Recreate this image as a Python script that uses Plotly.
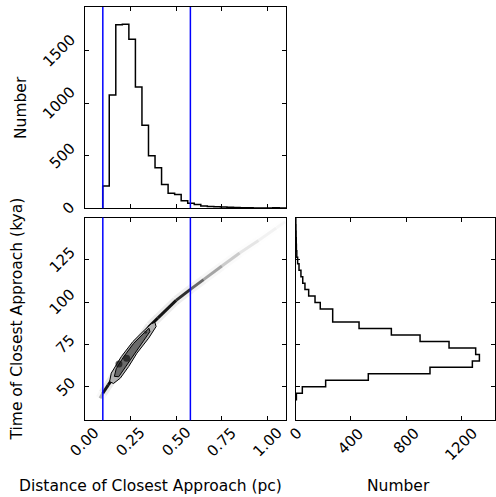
import numpy as np
import plotly.graph_objects as go

# ---------------- data ----------------
# distance histogram (top-left)
dist_start = 0.0994
dist_width = 0.0357
dist_counts = [213, 1077, 1745, 1752, 1608, 1153, 790, 500, 385, 226, 143, 131, 73, 48,
               35, 23, 16, 14, 12, 10, 8, 6, 5, 4, 3, 3, 5, 4]

# time histogram (bottom-right)
time_start = 42.16
time_width = 3.836
time_counts = [5, 48, 217, 526, 973, 1280, 1331, 1304, 1111, 901, 693, 459, 268, 268,
               178, 140, 94, 67, 51, 38, 24, 14, 8, 5, 4, 3, 2, 1]

# blue marker lines (pc)
blue_lines = [0.100, 0.578]

# ridge of the 2-D distribution
ridge_x = [0.085, 0.10, 0.13, 0.20, 0.28, 0.357, 0.40, 0.50, 0.578, 0.65, 0.75, 0.847, 0.95, 1.047, 1.095]
ridge_t = [43.0, 46.0, 51.0, 62.0, 74.0, 86.0, 90.5, 101.0, 107.5, 113.3, 121.3, 129.0, 136.5, 143.8, 147.5]
ridge_density = [0.3, 0.95, 1.0, 1.0, 1.0, 1.0, 0.95, 0.85, 0.6, 0.35, 0.2, 0.1, 0.05, 0.03]

# contour levels
outer_x = [0.137, 0.146, 0.201, 0.264, 0.328, 0.364, 0.384, 0.391, 0.350, 0.286, 0.241, 0.195, 0.158, 0.137]
outer_t = [52.9, 57.9, 67.7, 76.6, 83.5, 87.1, 88.0, 85.5, 78.6, 69.7, 61.8, 54.9, 51.8, 52.9]
middle_x = [0.163, 0.173, 0.213, 0.268, 0.328, 0.352, 0.357, 0.322, 0.267, 0.227, 0.187, 0.163]
middle_t = [56.0, 60.5, 67.5, 75.5, 82.0, 84.5, 82.5, 77.0, 69.0, 62.0, 55.8, 56.0]
peak_x = [0.188, 0.230, 0.333]
peak_t = [63.4, 66.8, 82.2]

dist_ticks = [0, 0.25, 0.5, 0.75, 1.0]
dist_ticklabels = ["0.00", "0.25", "0.50", "0.75", "1.00"]
count_ticks_top = [0, 500, 1000, 1500]
time_ticks = [50, 75, 100, 125]
count_ticks_right = [0, 400, 800, 1200]

# ---------------- layout geometry ----------------
W, H = 496, 497
def px_x(a, b):
    return [a / W, b / W]
def px_y(top, bottom):
    return [1 - bottom / H, 1 - top / H]

FONT = "DejaVu Sans"
TICKFS = 15
LABFS = 15.5

fig = go.Figure()

# top histogram (step)
edges = dist_start + dist_width * np.arange(len(dist_counts) + 1)
hx = np.concatenate([[edges[0]], edges[:-1], [edges[-1], edges[-1]]])
hy = np.concatenate([[0], dist_counts, [dist_counts[-1], 0]])
fig.add_trace(go.Scatter(x=hx, y=hy, mode="lines", line=dict(color="black", width=1.5, shape="hv"),
                         xaxis="x", yaxis="y", hoverinfo="skip"))

# right histogram (horizontal step)
tedges = time_start + time_width * np.arange(len(time_counts) + 1)
vy = np.concatenate([[tedges[0]], tedges[:-1], [tedges[-1], tedges[-1]]])
vx = np.concatenate([[0], time_counts, [time_counts[-1], 0]])
fig.add_trace(go.Scatter(x=vx, y=vy, mode="lines", line=dict(color="black", width=1.5, shape="vh"),
                         xaxis="x3", yaxis="y3", hoverinfo="skip"))

# 2-D ridge: halo then core
for i in range(len(ridge_density)):
    d = ridge_density[i]
    fig.add_trace(go.Scatter(x=ridge_x[i:i + 2], y=ridge_t[i:i + 2], mode="lines",
                             line=dict(color=f"rgba(0,0,0,{0.08 * d:.3f})", width=9),
                             xaxis="x2", yaxis="y2", hoverinfo="skip"))
for i in range(len(ridge_density)):
    d = ridge_density[i]
    fig.add_trace(go.Scatter(x=ridge_x[i:i + 2], y=ridge_t[i:i + 2], mode="lines",
                             line=dict(color=f"rgba(0,0,0,{0.95 * d:.3f})", width=3),
                             xaxis="x2", yaxis="y2", hoverinfo="skip"))

# contours
fig.add_trace(go.Scatter(x=outer_x, y=outer_t, mode="lines", fill="toself", fillcolor="#b2b2b2",
                         line=dict(color="black", width=1), xaxis="x2", yaxis="y2", hoverinfo="skip"))
fig.add_trace(go.Scatter(x=middle_x, y=middle_t, mode="lines", fill="toself", fillcolor="#6a6a6a",
                         line=dict(color="black", width=1), xaxis="x2", yaxis="y2", hoverinfo="skip"))
fig.add_trace(go.Scatter(x=peak_x, y=peak_t, mode="markers",
                         marker=dict(color="#111111", size=[7, 7, 3], line=dict(width=0)),
                         xaxis="x2", yaxis="y2", hoverinfo="skip"))

# blue lines
for v in blue_lines:
    for xa, ya in (("x", "y"), ("x2", "y2")):
        fig.add_shape(type="line", x0=v, x1=v, y0=0, y1=1, xref=xa, yref=f"{ya} domain",
                      line=dict(color="blue", width=1.5))

axis_common = dict(showgrid=False, zeroline=False, showline=True, linecolor="black", linewidth=1.3,
                   mirror="ticks", ticks="inside", ticklen=4, tickwidth=1, tickcolor="black",
                   showticklabels=False)

fig.update_layout(
    width=W, height=H, margin=dict(l=0, r=0, t=0, b=0),
    paper_bgcolor="white", plot_bgcolor="white", showlegend=False,
    xaxis=dict(domain=px_x(84.5, 286), range=[0, 1.1], tickvals=dist_ticks, anchor="y", **axis_common),
    yaxis=dict(domain=px_y(7, 208.3), range=[0, 1915], tickvals=count_ticks_top, anchor="x", **axis_common),
    xaxis2=dict(domain=px_x(84.5, 286), range=[0, 1.1], tickvals=dist_ticks, anchor="y2", **axis_common),
    yaxis2=dict(domain=px_y(217.6, 420.3), range=[30, 150], tickvals=time_ticks, anchor="x2", **axis_common),
    xaxis3=dict(domain=px_x(295.7, 495), range=[0, 1444], tickvals=count_ticks_right, anchor="y3", **axis_common),
    yaxis3=dict(domain=px_y(217.6, 420.3), range=[30, 150], tickvals=time_ticks, anchor="x3", **axis_common),
)

ann = []
tf = dict(family=FONT, size=TICKFS, color="black")
for v in count_ticks_top:
    ann.append(dict(x=0, xref="x domain", y=v, yref="y", text=str(v), textangle=-45, showarrow=False,
                    xanchor="right", yanchor="middle", xshift=-3, font=tf))
for v in time_ticks:
    ann.append(dict(x=0, xref="x2 domain", y=v, yref="y2", text=str(v), textangle=-45, showarrow=False,
                    xanchor="right", yanchor="middle", xshift=-3, font=tf))
for v, lab in zip(dist_ticks, dist_ticklabels):
    ann.append(dict(x=v, xref="x2", y=0, yref="y2 domain", text=lab, textangle=-45, showarrow=False,
                    xanchor="center", yanchor="top", yshift=-1, font=tf))
for v in count_ticks_right:
    ann.append(dict(x=v, xref="x3", y=0, yref="y3 domain", text=str(v), textangle=-45, showarrow=False,
                    xanchor="center", yanchor="top", yshift=-1, font=tf))

lf = dict(family=FONT, size=LABFS, color="black")
ann.append(dict(x=20.5 / W, y=1 - 107.5 / H, xref="paper", yref="paper", text="Number", textangle=-90,
                showarrow=False, xanchor="center", yanchor="middle", font=lf))
ann.append(dict(x=16.5 / W, y=1 - 319 / H, xref="paper", yref="paper", text="Time of Closest Approach (kya)",
                textangle=-90, showarrow=False, xanchor="center", yanchor="middle", font=lf))
ann.append(dict(x=150.5 / W, y=1 - 486 / H, xref="paper", yref="paper", text="Distance of Closest Approach (pc)",
                showarrow=False, xanchor="center", yanchor="middle", font=lf))
ann.append(dict(x=398 / W, y=1 - 486 / H, xref="paper", yref="paper", text="Number",
                showarrow=False, xanchor="center", yanchor="middle", font=lf))
fig.update_layout(annotations=ann)

fig.write_html("out.html", config={"displayModeBar": False},
               post_script="document.body.style.margin='0';document.body.style.overflow='hidden';")
